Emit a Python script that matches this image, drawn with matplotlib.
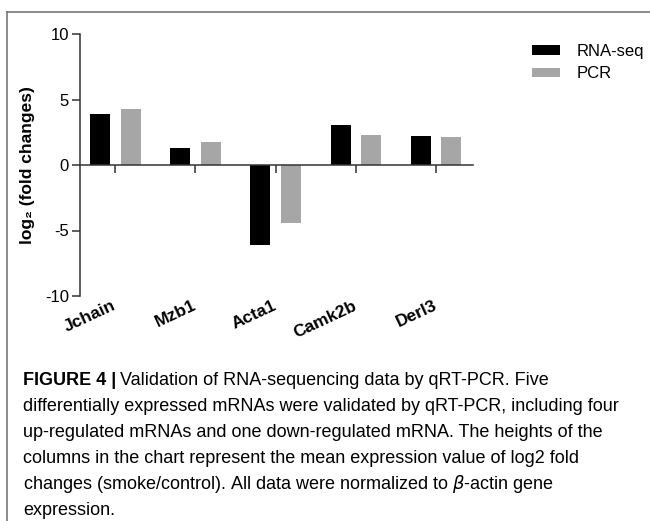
import numpy as np
import matplotlib
matplotlib.use("Agg")
from matplotlib import pyplot as plt
from matplotlib.lines import Line2D

plt.rcParams["font.family"] = ["Liberation Sans", "DejaVu Sans"]
plt.rcParams["axes.unicode_minus"] = False

genes = ["Jchain", "Mzb1", "Acta1", "Camk2b", "Derl3"]
rna_seq = [3.9, 1.3, -6.1, 3.05, 2.22]
pcr = [4.3, 1.72, -4.45, 2.27, 2.17]
y_ticks = [-10, -5, 0, 5, 10]

fig = plt.figure(figsize=(6.5, 5.21), dpi=100)
ax = fig.add_axes([80 / 650, 1 - 296 / 521, 393 / 650, 262 / 521])

x = np.arange(len(genes))
ax.bar(x - 0.19, rna_seq, width=0.25, color="black", label="RNA-seq")
ax.bar(x + 0.19, pcr, width=0.25, color="#a6a6a6", label="PCR")

ax.set_xlim(-0.44, 4.46)
ax.set_ylim(-10, 10)
ax.set_yticks(y_ticks)
ax.set_yticklabels([str(t) for t in y_ticks], fontsize=12)
ax.set_xticks(x)
ax.set_xticklabels([])

for s in ["top", "right"]:
    ax.spines[s].set_visible(False)
ax.spines["bottom"].set_position(("data", 0))
for s in ["left", "bottom"]:
    ax.spines[s].set_color("#333333")
    ax.spines[s].set_linewidth(1.1)
ax.tick_params(axis="both", direction="out", length=6, width=1.1, color="#333333", pad=2)

for xi, g in zip(x, genes):
    ax.text(xi - 0.04, -10.15, g, rotation=25, rotation_mode="anchor",
            ha="right", va="top", fontsize=12.5, fontweight="bold")

ax.set_ylabel("log\u2082 (fold changes)", fontsize=12.5, fontweight="bold", labelpad=7)

ax.legend(loc="upper left", bbox_to_anchor=(532 / 650, 1 - 44 / 521),
          bbox_transform=fig.transFigure, frameon=False, fontsize=12,
          borderpad=0, borderaxespad=0,
          handlelength=1.7, handleheight=0.5, handletextpad=1.0, labelspacing=0.45)

# frame around the figure
fig.add_artist(Line2D([7 / 650, 7 / 650], [0, 1 - 12 / 521], color="#777777", lw=1.2))
fig.add_artist(Line2D([7 / 650, 1], [1 - 12 / 521, 1 - 12 / 521], color="#777777", lw=1.2))

# caption
cap_size = 13
renderer = fig.canvas.get_renderer()
t0 = fig.text(23 / 650, 1 - 385 / 521, "FIGURE 4 |", fontsize=cap_size,
              fontweight="bold", va="baseline")
bb = t0.get_window_extent(renderer=renderer)
fig.text((bb.x1 + 4) / 650, 1 - 385 / 521,
         "Validation of RNA-sequencing data by qRT-PCR. Five",
         fontsize=cap_size, va="baseline")
lines = [
    "differentially expressed mRNAs were validated by qRT-PCR, including four",
    "up-regulated mRNAs and one down-regulated mRNA. The heights of the",
    "columns in the chart represent the mean expression value of log2 fold",
    r"changes (smoke/control). All data were normalized to $\beta$-actin gene",
    "expression.",
]
for i, ln in enumerate(lines):
    fig.text(23 / 650, 1 - (411 + 26 * i) / 521, ln, fontsize=cap_size, va="baseline")

fig.savefig("out.png", dpi=100)
